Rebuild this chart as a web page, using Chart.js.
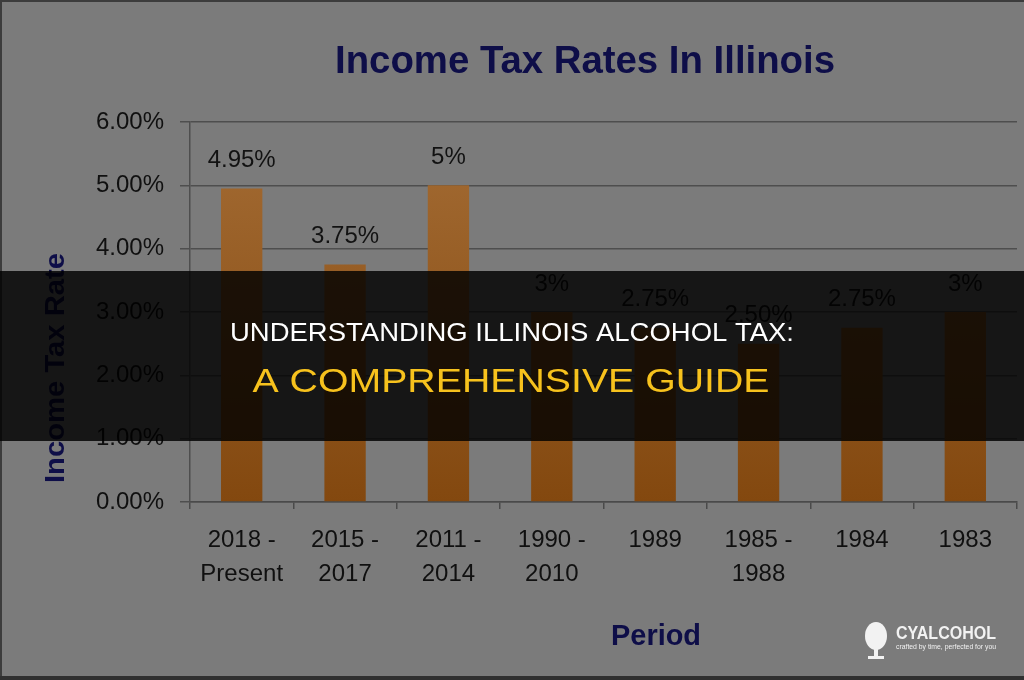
<!DOCTYPE html>
<html>
<head>
<meta charset="utf-8">
<script src="https://cdn.jsdelivr.net/npm/chart.js@4"></script>
<style>
html,body{margin:0;padding:0;background:#7b7b7b;}
#wrap{width:1024px;height:680px;}
</style>
</head>
<body>
<div id="wrap"><canvas id="c" width="1024" height="680"></canvas></div>
<script>
// ---- data ----
const categories = [["2018 -","Present"],["2015 -","2017"],["2011 -","2014"],["1990 -","2010"],"1989",["1985 -","1988"],"1984","1983"];
const rates = [4.95, 3.75, 5, 3, 2.75, 2.5, 2.75, 3];
const rateLabels = ["4.95%","3.75%","5%","3%","2.75%","2.50%","2.75%","3%"];
const yTickValues = [0, 1, 2, 3, 4, 5, 6];
const chartTitle = "Income Tax Rates In Illinois";
const yAxisTitle = "Income Tax Rate";
const xAxisTitle = "Period";
const bannerLine1 = "UNDERSTANDING ILLINOIS ALCOHOL TAX:";
const bannerLine2 = "A COMPREHENSIVE GUIDE";
const logoName = "CYALCOHOL";
const logoTag = "crafted by time, perfected for you";

const FONT = "'Liberation Sans', Arial, sans-serif";

function fitText(ctx, text, cx, cy, targetW) {
  const w = ctx.measureText(text).width;
  const s = targetW / w;
  ctx.save();
  ctx.translate(cx, cy);
  ctx.scale(s, 1);
  ctx.fillText(text, 0, 0);
  ctx.restore();
}

const decorPlugin = {
  id: 'decor',
  beforeDraw(chart) {
    const ctx = chart.ctx;
    ctx.save();
    ctx.fillStyle = '#7b7b7b';
    ctx.fillRect(0, 0, chart.width, chart.height);
    ctx.restore();
  },
  afterDatasetsDraw(chart) {
    const ctx = chart.ctx;
    const meta = chart.getDatasetMeta(0);
    ctx.save();
    ctx.fillStyle = '#121212';
    ctx.font = "24px " + FONT;
    ctx.textAlign = 'center';
    ctx.textBaseline = 'middle';
    meta.data.forEach((bar, i) => {
      ctx.fillText(rateLabels[i], bar.x, bar.y - 28);
    });
    ctx.restore();
  },
  afterDraw(chart) {
    const ctx = chart.ctx;
    ctx.save();
    // chart title
    ctx.fillStyle = '#0e0e48';
    ctx.font = "bold 39px " + FONT;
    ctx.textAlign = 'center';
    ctx.textBaseline = 'middle';
    fitText(ctx, chartTitle, 585, 62, 500);
    // x axis title
    ctx.font = "bold 30px " + FONT;
    fitText(ctx, xAxisTitle, 656, 637, 90);
    // y axis title
    ctx.save();
    ctx.translate(56, 368);
    ctx.rotate(-Math.PI / 2);
    ctx.font = "bold 28px " + FONT;
    fitText(ctx, yAxisTitle, 0, 0, 230);
    ctx.restore();
    // frame edges
    ctx.fillStyle = '#3c3c3c';
    ctx.fillRect(0, 0, 1024, 2);
    ctx.fillRect(0, 0, 2, 680);
    ctx.fillStyle = '#303030';
    ctx.fillRect(0, 676, 1024, 4);
    // banner
    ctx.fillStyle = 'rgba(0,0,0,0.82)';
    ctx.fillRect(0, 271, 1024, 170);
    ctx.fillStyle = '#ffffff';
    ctx.font = "26px " + FONT;
    fitText(ctx, bannerLine1, 512, 334, 564);
    ctx.fillStyle = '#f7c21d';
    ctx.font = "33px " + FONT;
    fitText(ctx, bannerLine2, 511, 383, 517);
    // logo
    ctx.fillStyle = '#f2f2f2';
    ctx.beginPath();
    ctx.ellipse(876, 636, 11, 14, 0, 0, Math.PI * 2);
    ctx.fill();
    ctx.fillRect(874, 648, 4, 10);
    ctx.fillRect(868, 656, 16, 3);
    ctx.font = "bold 19px " + FONT;
    ctx.textAlign = 'left';
    fitText(ctx, logoName, 896, 634, 100);
    ctx.font = "7px " + FONT;
    fitText(ctx, logoTag, 896, 647, 100);
    ctx.restore();
  }
};

const ctx = document.getElementById('c').getContext('2d');
new Chart(ctx, {
  type: 'bar',
  data: {
    labels: categories,
    datasets: [{
      data: rates,
      backgroundColor: (c) => {
        const area = c.chart.chartArea;
        if (!area) return '#8a5418';
        const g = c.chart.ctx.createLinearGradient(0, area.top, 0, area.bottom);
        g.addColorStop(0, '#a46c34');
        g.addColorStop(1, '#83480f');
        return g;
      },
      borderWidth: 0,
      barPercentage: 0.4,
      categoryPercentage: 1.0
    }]
  },
  options: {
    responsive: false,
    animation: false,
    layout: { padding: { top: 122, right: 7, left: 0, bottom: 0 } },
    plugins: { legend: { display: false }, tooltip: { enabled: false }, title: { display: false } },
    scales: {
      x: {
        grid: { display: true, drawOnChartArea: false, drawTicks: true, tickLength: 7, color: '#4a4a4a', lineWidth: 1.5 },
        border: { display: true, color: '#4a4a4a', width: 1.5 },
        ticks: {
          color: '#101010',
          font: { family: FONT, size: 24, lineHeight: 1.4 },
          padding: 15,
          maxRotation: 0,
          autoSkip: false
        },
        afterFit(scale) { scale.height = 178; }
      },
      y: {
        min: 0, max: 6,
        afterBuildTicks(scale) { scale.ticks = yTickValues.map(v => ({ value: v })); },
        grid: { color: '#4e4e4e', lineWidth: 1.5, tickLength: 10, drawTicks: true },
        border: { display: true, color: '#4e4e4e', width: 1.5 },
        ticks: {
          color: '#101010',
          font: { family: FONT, size: 24 },
          padding: 16,
          callback: (v) => Number(v).toFixed(2) + '%'
        },
        afterFit(scale) { scale.width = 190; }
      }
    }
  },
  plugins: [decorPlugin]
});
</script>
</body>
</html>
